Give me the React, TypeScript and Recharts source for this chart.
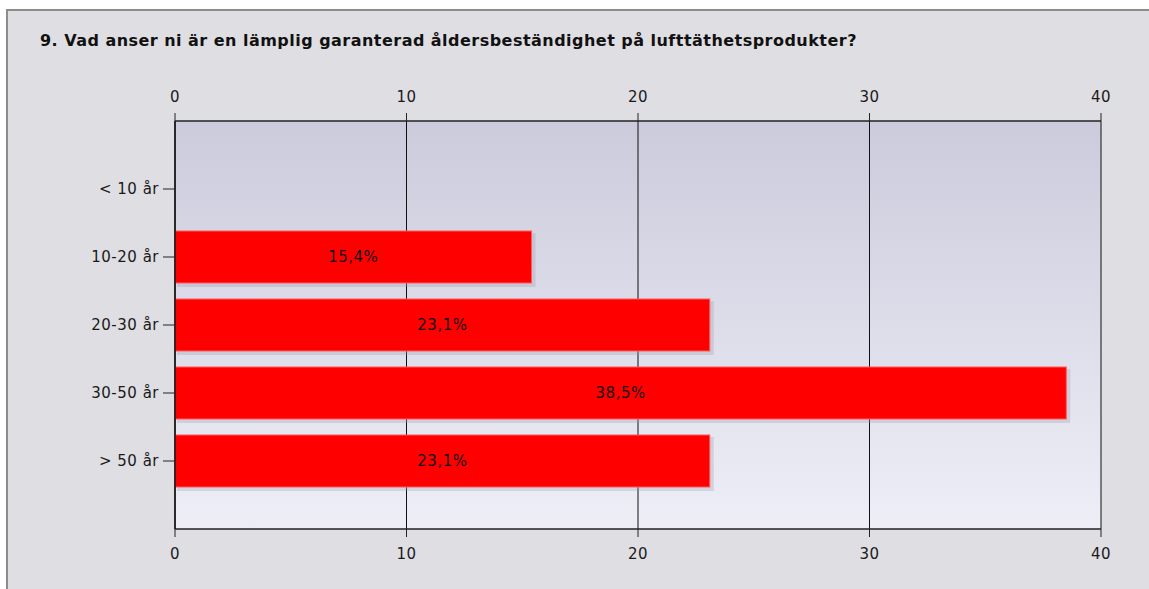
import React from 'react';
import { BarChart, Bar, XAxis, YAxis, CartesianGrid, LabelList } from 'recharts';

const categories = ['< 10 år', '10-20 år', '20-30 år', '30-50 år', '> 50 år'];
const values = [0, 15.4, 23.1, 38.5, 23.1];
const xTicks = [0, 10, 20, 30, 40];
const title = '9. Vad anser ni är en lämplig garanterad åldersbeständighet på lufttäthetsprodukter?';

const data = categories.map((c, i) => ({ name: c, value: values[i] }));

const FONT = '"DejaVu Sans", Tahoma, sans-serif';
const tickStyle = { fill: '#1a1a1a', fontSize: 15, fontFamily: FONT, letterSpacing: 0.5 };

const BarShape = (props: any) => {
  const { x, y, width, height } = props;
  if (!width || width <= 0) return null;
  return (
    <g>
      <rect x={x + 2} y={y + 2} width={width + 2} height={height + 2} fill="#9a9aa8" opacity={0.3} />
      <rect x={x} y={y} width={width} height={height} fill="#ff0000" stroke="#ff5a5a" strokeWidth={1} />
    </g>
  );
};

const fmt = (v: any) => (v ? `${Number(v).toFixed(1).replace('.', ',')}%` : '');

export default function App() {
  return (
    <div style={{ position: 'fixed', left: 0, top: 0, width: 1149, height: 589, background: '#ffffff', overflow: 'hidden' }}>
      <div
        style={{
          position: 'absolute',
          left: 6,
          top: 9,
          width: 1149,
          height: 589,
          background: '#dfdee3',
          borderLeft: '2px solid #8b8e88',
          borderTop: '2px solid #8b8e88',
        }}
      />
      <div
        style={{
          position: 'absolute',
          left: 40,
          top: 31,
          fontFamily: FONT,
          fontWeight: 'bold',
          fontSize: 16,
          letterSpacing: 0.47,
          color: '#111',
          whiteSpace: 'nowrap',
          lineHeight: '20px',
        }}
      >
        {title}
      </div>
      <div style={{ position: 'absolute', left: 0, top: 0 }}>
        <BarChart
          width={1149}
          height={589}
          data={data}
          layout="vertical"
          margin={{ top: 91, right: 48, bottom: 30, left: 0 }}
          barCategoryGap={0}
        >
          <defs>
            <linearGradient id="plotBg" x1="0" y1="0" x2="0" y2="1">
              <stop offset="0%" stopColor="#cccbdc" />
              <stop offset="100%" stopColor="#eeeef7" />
            </linearGradient>
          </defs>
          <CartesianGrid
            xAxisId="bottom"
            horizontal={false}
            vertical={true}
            stroke="#111"
            strokeWidth={1}
            fill="url(#plotBg)"
            fillOpacity={1}
          />
          <XAxis
            xAxisId="top"
            orientation="top"
            type="number"
            domain={[0, 40]}
            allowDataOverflow
            ticks={xTicks}
            height={30}
            tickSize={8}
            tickMargin={11}
            axisLine={{ stroke: '#222', strokeWidth: 1.5 }}
            tickLine={{ stroke: '#222' }}
            tick={tickStyle}
          />
          <XAxis
            xAxisId="bottom"
            orientation="bottom"
            type="number"
            domain={[0, 40]}
            allowDataOverflow
            ticks={xTicks}
            height={30}
            tickSize={8}
            tickMargin={11}
            axisLine={{ stroke: '#222', strokeWidth: 1.5 }}
            tickLine={{ stroke: '#222' }}
            tick={tickStyle}
          />
          <YAxis
            type="category"
            dataKey="name"
            width={175}
            padding={{ top: 34, bottom: 34 }}
            tickSize={12}
            tickMargin={4}
            axisLine={{ stroke: '#111', strokeWidth: 1.5 }}
            tickLine={{ stroke: '#222' }}
            tick={tickStyle}
          />
          <Bar
            xAxisId="bottom"
            dataKey="value"
            barSize={52}
            shape={BarShape}
            isAnimationActive={false}
          >
            <LabelList
              dataKey="value"
              position="center"
              formatter={fmt}
              style={{ fill: '#111', fontSize: 15, fontFamily: FONT, letterSpacing: 0.5 }}
            />
          </Bar>
        </BarChart>
      </div>
    </div>
  );
}
